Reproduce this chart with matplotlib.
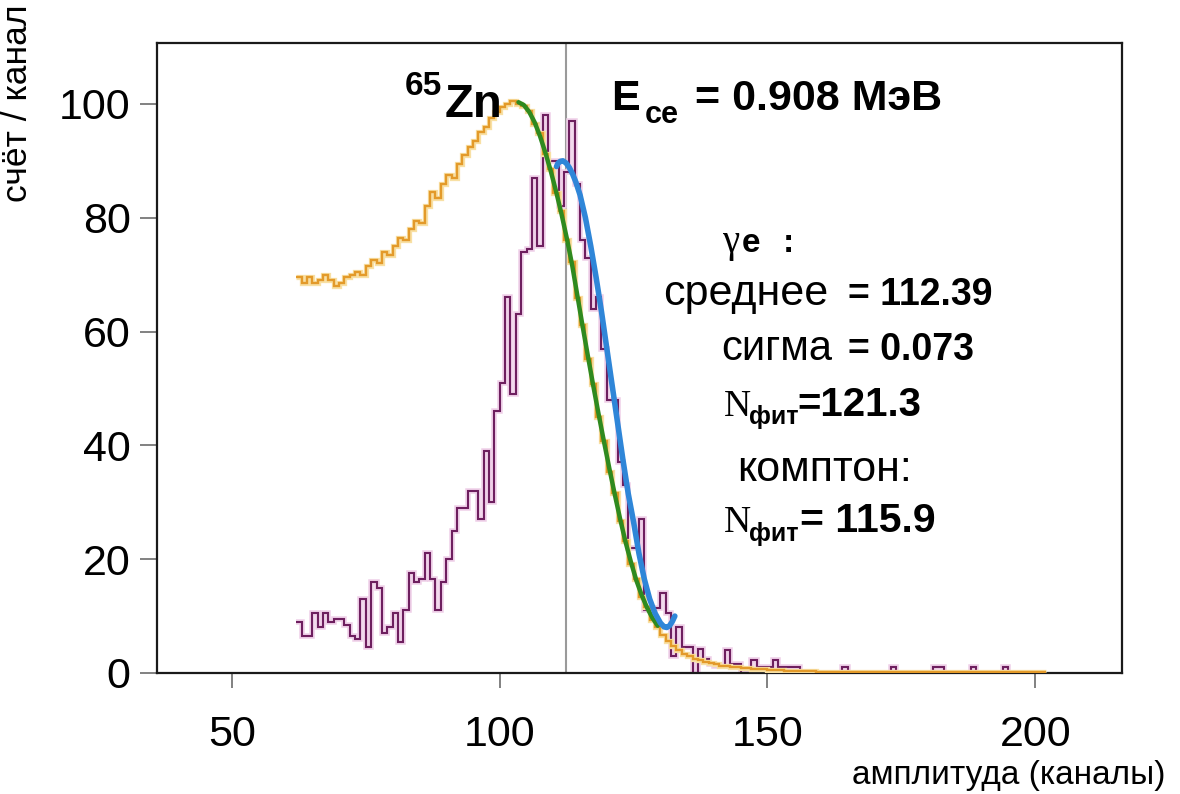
import numpy as np
import matplotlib
matplotlib.use("Agg")
import matplotlib.pyplot as plt
import matplotlib.patheffects as pe

plt.rcParams["font.family"] = ["Liberation Sans", "DejaVu Sans"]

# ---- data -----------------------------------------------------------------
first_channel = 62

# measured counts per channel (channels 62 ... 201)
measured_counts = [
    9, 6.5, 6.5, 10.5, 8, 10.5, 9, 9.5, 9.5, 8.5,          # 62-71
    6.5, 6, 13, 4.5, 16, 15, 7, 8, 10.5, 5.5,              # 72-81
    11, 17.5, 16, 16.5, 21, 16.5, 11, 16, 20, 25,          # 82-91
    29, 29, 32, 32, 27, 39, 30, 46, 51, 66,                # 92-101
    49, 63, 74, 74.5, 87, 75, 98, 90, 90, 82,              # 102-111
    88, 97, 86, 76, 73, 64, 66, 57, 48, 48,                # 112-121
    37, 33, 22, 22, 27, 11, 11, 11.5, 14, 10.5,            # 122-131
    3, 8, 4.6, 4.6, 0, 4.2, 2.5, 1.5, 1.2, 1.2,            # 132-141
    4, 1.5, 1.5, 0, 0, 2.3, 1, 1, 1, 2.3,                  # 142-151
    1, 1, 1, 1, 0, 0, 0, 0, 0, 0,                          # 152-161
    0, 0, 1, 0, 0, 0, 0, 0, 0, 0,                          # 162-171
    0, 1, 0, 0, 0, 0, 0, 0, 0, 1,                          # 172-181
    1, 0, 0, 0, 0, 0, 1, 0, 0, 0,                          # 182-191
    0, 0, 1, 0, 0, 0, 0, 0, 0, 0,                          # 192-201
]

# simulated Compton spectrum, same channels
compton_sim = [
    69.5, 68.5, 69.5, 68.5, 69, 70, 69, 68, 68.5, 69.5,    # 62-71
    70, 70.5, 70, 71.5, 72.5, 72, 74, 73.5, 75, 76.5,      # 72-81
    76, 78, 79.5, 79, 82, 84.5, 83.5, 86, 87.5, 87,        # 82-91
    89.5, 91, 92.5, 93.5, 95, 96, 97.5, 98.5, 99.5, 100,   # 92-101
    100.5, 100, 99.6, 98.8, 96.5, 94.8, 91.2, 88.6, 84.3, 81.2,  # 102-111
    76.1, 72.2, 65.9, 61.2, 55.1, 50.7, 44.9, 40.8, 35.4, 31.6,  # 112-121
    26.7, 23.2, 19.2, 16.5, 13.4, 11.6, 9.4, 8.0, 6.6, 5.6,      # 122-131
    4.7, 4.0, 3.4, 2.9, 2.5, 2.2, 1.9, 1.7, 1.5, 1.3,            # 132-141
    1.2, 1.1, 1.0, 0.9, 0.8, 0.75, 0.7, 0.65, 0.6, 0.5,          # 142-151
    0.45, 0.4, 0.4, 0.35, 0.3, 0.3, 0.3, 0.25, 0.25, 0.2,        # 152-161
    0.2, 0.2, 0.2, 0.2, 0.2, 0.2, 0.2, 0.15, 0.15, 0.1,          # 162-171
    0.1, 0.1, 0.1, 0.1, 0.1, 0.1, 0.1, 0.1, 0.1, 0.1,            # 172-181
    0.1, 0.1, 0.1, 0.1, 0.1, 0.1, 0.1, 0.1, 0.1, 0.1,            # 182-191
    0.1, 0.1, 0.1, 0.1, 0.1, 0.1, 0.1, 0.1, 0.1, 0.1,            # 192-201
]

# Compton edge fit
compton_fit_x = [103.5, 104.5, 105.5, 106.5, 107.5, 108.5, 109.5, 110.5, 111.5,
                 112.5, 113.5, 114.5, 115.5, 116.5, 117.5, 118.5, 119.5, 120.5,
                 121.5, 122.5, 123.5, 124.5, 125.5, 126.5, 127.5, 128.5, 129.5]
compton_fit_y = [100.3, 99.8, 98.6, 96.8, 94.4, 91.5, 88.3, 84.7, 80.8,
                 76.5, 71.8, 66.3, 60.8, 55.5, 50.3, 45.3, 40.5, 35.8,
                 31.3, 27.0, 23.0, 19.5, 16.3, 13.7, 11.5, 9.7, 8.3]

# gamma-electron fit
ge_fit_x = [110.6, 110.9, 111.3, 111.8, 112.4, 113.0, 113.6, 114.2, 115.0,
            116.0, 117.0, 118.0, 119.0, 120.0, 121.0, 122.0, 123.0, 124.0,
            125.0, 126.0, 127.0, 128.0, 129.0, 130.0, 130.7, 131.2, 131.7,
            132.2, 132.7]
ge_fit_y = [89.0, 89.6, 89.9, 90.0, 89.6, 88.8, 87.7, 86.3, 84.0,
            80.0, 75.0, 69.5, 63.5, 57.0, 50.5, 44.0, 37.5, 31.5,
            26.5, 21.0, 16.5, 13.0, 10.5, 8.8, 8.1, 8.0, 8.3,
            9.0, 10.0]

mean_channel = 112.39
x_ticks = [50, 100, 150, 200]
y_ticks = [0, 20, 40, 60, 80, 100]

# ---- figure ---------------------------------------------------------------
W, H = 1180, 794
fig = plt.figure(figsize=(W / 100, H / 100), dpi=100)
ax = fig.add_axes([157 / W, (H - 673) / H, (1122 - 157) / W, (673 - 43) / H])


def fx(x):
    return x / W


def fy(y):
    return 1 - y / H


edges = np.arange(first_channel, first_channel + len(measured_counts) + 1)

ax.axvline(mean_channel, color="#9a9a9a", lw=1.5, zorder=1)

ax.stairs(measured_counts, edges, baseline=None, color="#6e1f5f", lw=1.5,
          zorder=2,
          path_effects=[pe.Stroke(linewidth=4.0, foreground="#efd0e8"), pe.Normal()])
ax.stairs(compton_sim, edges, baseline=None, color="#e39a2a", lw=1.7,
          zorder=3,
          path_effects=[pe.Stroke(linewidth=3.8, foreground="#f8e0a4"), pe.Normal()])
ax.plot(compton_fit_x, compton_fit_y, color="#2f8a1f", lw=3.2, zorder=4,
        solid_capstyle="round")
ax.plot(ge_fit_x, ge_fit_y, color="#2f86d8", lw=4.0, zorder=5,
        solid_capstyle="round")

ax.set_xlim(36, 216.2)
ax.set_ylim(0, 110.7)
ax.set_xticks(x_ticks)
ax.set_yticks(y_ticks)
ax.set_xticklabels([str(t) for t in x_ticks])
ax.set_yticklabels([str(t) for t in y_ticks])

for s in ax.spines.values():
    s.set_linewidth(1.6)
    s.set_color("#1a1a1a")

ax.tick_params(axis="y", direction="out", length=12, width=1.3, color="#777777",
               labelsize=31, pad=7)
ax.tick_params(axis="x", direction="out", length=11, width=1.3, color="#777777",
               labelsize=31, pad=19)

# axis titles
fig.text(fx(18), fy(4), "счёт / канал", rotation=90, ha="center", va="top",
         fontsize=25.5)
fig.text(fx(1166), fy(784), "амплитуда (каналы)", ha="right", va="baseline",
         fontsize=24)

# isotope and energy
fig.text(fx(405), fy(95), "65", fontsize=24, fontweight="bold")
fig.text(fx(445), fy(117), "Zn", fontsize=34, fontweight="bold")
fig.text(fx(611), fy(110), "E", fontsize=31, fontweight="bold")
fig.text(fx(645), fy(123), "ce", fontsize=22, fontweight="bold")
fig.text(fx(695), fy(110), "= 0.908 МэВ", fontsize=31, fontweight="bold")

# fit results
serif = ["Liberation Serif", "DejaVu Serif"]
fig.text(fx(722), fy(252), "γ", fontsize=28, family=serif)
fig.text(fx(742), fy(252), "e", fontsize=24, fontweight="bold")
fig.text(fx(783), fy(252), ":", fontsize=24, fontweight="bold")
fig.text(fx(663), fy(305), "среднее", fontsize=31)
fig.text(fx(848), fy(305), "= 112.39", fontsize=27, fontweight="bold")
fig.text(fx(721), fy(360), "сигма", fontsize=30)
fig.text(fx(848), fy(360), "= 0.073", fontsize=27, fontweight="bold")
fig.text(fx(724), fy(416), "N", fontsize=27, family=serif)
fig.text(fx(749), fy(424), "фит", fontsize=18, fontweight="bold")
fig.text(fx(797), fy(416), "=121.3", fontsize=29, fontweight="bold")
fig.text(fx(737), fy(481), "комптон:", fontsize=31)
fig.text(fx(724), fy(532), "N", fontsize=27, family=serif)
fig.text(fx(749), fy(541), "фит", fontsize=18, fontweight="bold")
fig.text(fx(800), fy(532), "= 115.9", fontsize=29.5, fontweight="bold")

fig.savefig("out.png", dpi=100, facecolor="white")
